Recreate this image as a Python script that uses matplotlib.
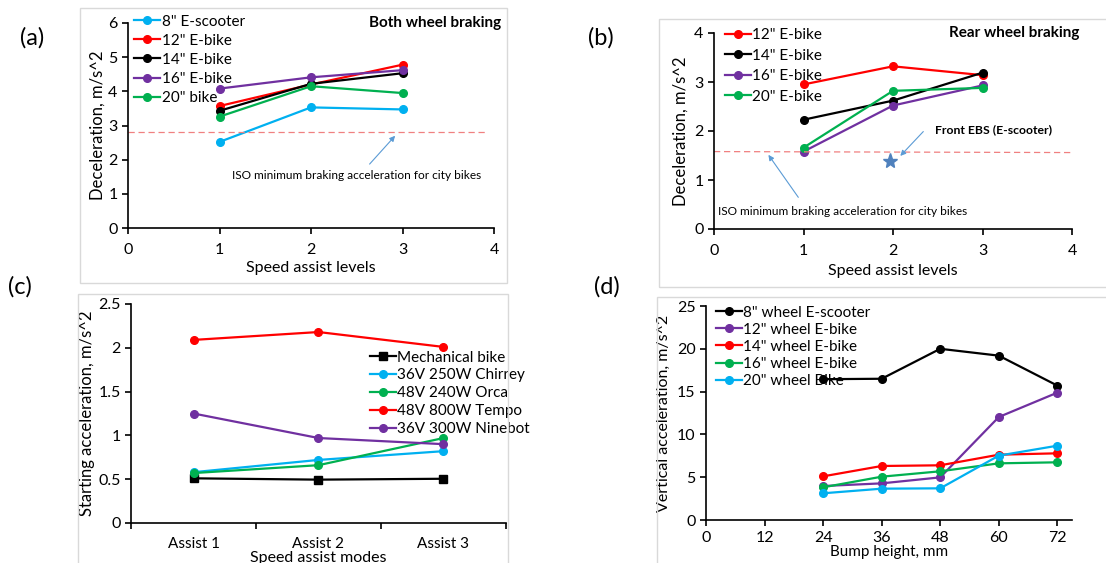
import matplotlib
matplotlib.use('Agg')
from matplotlib import pyplot as plt
from matplotlib.patches import Rectangle

plt.rcParams['font.family'] = ['Lato', 'DejaVu Sans']
plt.rcParams['font.size'] = 11

CYAN = '#00B0F0'
RED = '#FF0000'
BLACK = '#000000'
PURPLE = '#7030A0'
GREEN = '#00B050'
ARROW = '#5B9BD5'

# (a) both wheel braking
levels = [1, 2, 3]
a_names = ['8" E-scooter', '12" E-bike', '14" E-bike', '16" E-bike', '20" bike']
a_scooter8 = [2.52, 3.53, 3.47]
a_bike12 = [3.57, 4.20, 4.78]
a_bike14 = [3.43, 4.22, 4.53]
a_bike16 = [4.08, 4.41, 4.62]
a_bike20 = [3.26, 4.15, 3.95]
a_iso = 2.8

# (b) rear wheel braking
b_names = ['12" E-bike', '14" E-bike', '16" E-bike', '20" E-bike']
b_bike12 = [2.95, 3.32, 3.14]
b_bike14 = [2.23, 2.62, 3.19]
b_bike16 = [1.58, 2.52, 2.93]
b_bike20 = [1.66, 2.82, 2.88]
b_iso = 1.58
ebs_x = 1.97
ebs_y = 1.38

# (c) starting acceleration
modes = ['Assist 1', 'Assist 2', 'Assist 3']
c_names = ['Mechanical bike', '36V 250W Chirrey', '48V 240W Orca', '48V 800W Tempo', '36V 300W Ninebot']
c_mech = [0.51, 0.495, 0.505]
c_chirrey = [0.58, 0.72, 0.82]
c_orca = [0.57, 0.66, 0.97]
c_tempo = [2.09, 2.18, 2.01]
c_ninebot = [1.25, 0.97, 0.90]

# (d) vertical acceleration over bumps
bump = [24, 36, 48, 60, 72]
d_names = ['8" wheel E-scooter', '12" wheel E-bike', '14" wheel E-bike', '16" wheel E-bike', '20" wheel Bike']
d_scooter8 = [16.45, 16.5, 20.0, 19.2, 15.7]
d_bike12 = [3.97, 4.28, 4.98, 12.03, 14.88]
d_bike14 = [5.1, 6.31, 6.39, 7.63, 7.79]
d_bike16 = [3.82, 5.06, 5.69, 6.62, 6.74]
d_bike20 = [3.12, 3.66, 3.7, 7.52, 8.68]

W, H = 1106, 563
fig = plt.figure(figsize=(W / 100, H / 100), dpi=100)


def px_axes(left, top, right, bottom):
    return fig.add_axes([left / W, 1 - bottom / H, (right - left) / W, (bottom - top) / H])


def frame(left, top, right, bottom):
    fig.patches.append(Rectangle((left / W, 1 - bottom / H), (right - left) / W, (bottom - top) / H,
                                 transform=fig.transFigure, fill=False, edgecolor='#D9D9D9', lw=1))


def style(ax, xpad=7):
    for s in ['top', 'right']:
        ax.spines[s].set_visible(False)
    for s in ['left', 'bottom']:
        ax.spines[s].set_linewidth(1.2)
    ax.tick_params(direction='out', length=4, width=1.2, labelsize=11.5)
    ax.tick_params(axis='x', pad=xpad)


def series(ax, x, y, color, label, marker='o'):
    ax.plot(x, y, color=color, lw=1.6, marker=marker, ms=5.5, label=label, clip_on=False)


def legend(ax, anchor, spacing=0.4):
    ax.legend(loc='upper left', bbox_to_anchor=anchor, frameon=False, fontsize=11,
              handlelength=1.7, handletextpad=0.1, labelspacing=spacing, borderaxespad=0)


frame(80, 8, 507, 283)
frame(659, 19, 1110, 287)
frame(78, 294, 508, 570)
frame(657, 297, 1110, 570)

# ---- (a)
ax = px_axes(128, 23, 494, 228)
style(ax)
for y, c, n in zip([a_scooter8, a_bike12, a_bike14, a_bike16, a_bike20],
                   [CYAN, RED, BLACK, PURPLE, GREEN], a_names):
    series(ax, levels, y, c, n)
ax.plot([0, 3.93], [a_iso, a_iso], color='#F08080', lw=0.9, ls=(0, (5, 3)))
ax.set_xlim(0, 4)
ax.set_ylim(0, 6)
ax.set_xticks([0, 1, 2, 3, 4])
ax.set_yticks(range(7))
ax.set_xlabel('Speed assist levels', fontsize=11.5, labelpad=3)
ax.set_ylabel('Deceleration, m/s^2', fontsize=12, labelpad=2)
ax.annotate('', xy=(2.94, 2.76), xytext=(2.62, 1.81),
            arrowprops=dict(arrowstyle='-|>', color=ARROW, lw=0.8, mutation_scale=8))
ax.text(1.14, 1.55, 'ISO minimum braking acceleration for city bikes', fontsize=8.6, va='center')
ax.text(1.02, 1.0, 'Both wheel braking', transform=ax.transAxes, fontsize=11, fontweight='bold',
        ha='right', va='center')
legend(ax, (0.0, 1.07), spacing=0.33)
fig.text(32 / W, 1 - 38 / H, '(a)', fontsize=17, ha='center', va='center')

# ---- (b)
ax = px_axes(714, 33, 1072, 229)
style(ax)
for y, c, n in zip([b_bike12, b_bike14, b_bike16, b_bike20],
                   [RED, BLACK, PURPLE, GREEN], b_names):
    series(ax, levels, y, c, n)
ax.plot([0, 4], [b_iso, b_iso - 0.02], color='#F08080', lw=0.9, ls=(0, (5, 3)), clip_on=False)
ax.plot([ebs_x], [ebs_y], marker='*', ms=11, color='#4F81BD', ls='none')
ax.set_xlim(0, 4)
ax.set_ylim(0, 4)
ax.set_xticks([0, 1, 2, 3, 4])
ax.set_yticks(range(5))
ax.set_xlabel('Speed assist levels', fontsize=11.5, labelpad=4)
ax.set_ylabel('Deceleration, m/s^2', fontsize=12, labelpad=4)
ax.annotate('', xy=(0.59, 1.56), xytext=(0.96, 0.6),
            arrowprops=dict(arrowstyle='-|>', color=ARROW, lw=0.8, mutation_scale=8))
ax.annotate('', xy=(2.06, 1.45), xytext=(2.36, 2.03),
            arrowprops=dict(arrowstyle='-|>', color=ARROW, lw=0.8, mutation_scale=8))
ax.text(0.05, 0.35, 'ISO minimum braking acceleration for city bikes', fontsize=8.6, va='center')
ax.text(2.47, 2.03, 'Front EBS (E-scooter)', fontsize=8.8, fontweight='bold', va='center')
ax.text(1.02, 1.0, 'Rear wheel braking', transform=ax.transAxes, fontsize=11, fontweight='bold',
        ha='right', va='center')
legend(ax, (0.013, 1.055), spacing=0.42)
fig.text(601 / W, 1 - 38 / H, '(b)', fontsize=17, ha='center', va='center')

# ---- (c)
ax = px_axes(131, 304, 506, 523)
style(ax)
cx = [0.5, 1.5, 2.5]
for y, c, n, m in zip([c_mech, c_chirrey, c_orca, c_tempo, c_ninebot],
                      [BLACK, CYAN, GREEN, RED, PURPLE], c_names, ['s', 'o', 'o', 'o', 'o']):
    series(ax, cx, y, c, n, marker=m)
ax.set_xlim(0, 3)
ax.set_ylim(0, 2.5)
ax.set_xticks([0, 1, 2, 3])
ax.set_xticklabels([])
ax.set_xticks(cx, modes, minor=True)
ax.tick_params(axis='x', which='minor', length=0, labelsize=11, pad=10)
ax.set_yticks([0, 0.5, 1, 1.5, 2, 2.5])
ax.set_yticklabels(['0', '0.5', '1', '1.5', '2', '2.5'])
ax.set_xlabel('Speed assist modes', fontsize=11.5, labelpad=0)
ax.set_ylabel('Starting acceleration, m/s^2', fontsize=12, labelpad=2)
legend(ax, (0.62, 0.815), spacing=0.25)
fig.text(20 / W, 1 - 287 / H, '(c)', fontsize=17, ha='center', va='center')

# ---- (d)
ax = px_axes(706, 306, 1072, 520)
style(ax, xpad=4)
for y, c, n in zip([d_scooter8, d_bike12, d_bike14, d_bike16, d_bike20],
                   [BLACK, PURPLE, RED, GREEN, CYAN], d_names):
    series(ax, bump, y, c, n)
ax.set_xlim(0, 75)
ax.set_ylim(0, 25)
ax.set_xticks([0, 12, 24, 36, 48, 60, 72])
ax.set_yticks([0, 5, 10, 15, 20, 25])
ax.set_xlabel('Bump height, mm', fontsize=11, labelpad=0)
ax.set_ylabel('Vertical acceleration, m/s^2', fontsize=11.5, labelpad=4)
legend(ax, (0.01, 1.03), spacing=0.2)
fig.text(607 / W, 1 - 287 / H, '(d)', fontsize=17, ha='center', va='center')

fig.savefig('out.png', dpi=100)
